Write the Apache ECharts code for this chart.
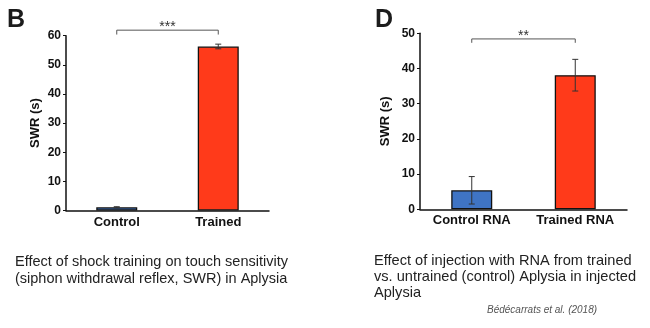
<!DOCTYPE html>
<html>
<head>
<meta charset="utf-8">
<script src="https://cdn.jsdelivr.net/npm/echarts@6/dist/echarts.min.js"></script>
<style>
  html, body { margin: 0; padding: 0; background: #ffffff; }
  #chart { width: 650px; height: 328px; }
</style>
</head>
<body>
<div id="chart"></div>
<script>
// Panel B: shock training
const categoriesB = ['Control', 'Trained'];
const meansB = [1.1, 56.3];
const errorsB = [0.2, 0.8];
const ticksB = { min: 0, max: 60, interval: 10 };
const sigB = { from: 0, to: 1, y: 61.9, drop: 1.5, text: '***' };

// Panel D: RNA injection
const categoriesD = ['Control RNA', 'Trained RNA'];
const meansD = [5.4, 38.1];
const errorsD = [3.9, 4.5];
const ticksD = { min: 0, max: 50, interval: 10 };
const sigD = { from: 0, to: 1, y: 48.4, drop: 1.1, text: '**' };

const barColors = ['#3f74c4', '#ff3a1a'];
const FONT = '"Liberation Sans", Arial, Helvetica, sans-serif';

const chart = echarts.init(document.getElementById('chart'), null, { renderer: 'canvas' });

function yAxisFor(gridIndex, ticks, gap) {
  return {
    type: 'value', gridIndex: gridIndex,
    min: ticks.min, max: ticks.max, interval: ticks.interval,
    name: 'SWR (s)', nameLocation: 'middle', nameGap: gap, nameRotate: 90,
    nameTextStyle: { fontFamily: FONT, fontWeight: 'bold', fontSize: 13, color: '#111' },
    axisLine: { show: true, lineStyle: { color: '#111', width: 1.5 } },
    axisTick: { show: true, length: 3, lineStyle: { color: '#111', width: 1 } },
    axisLabel: { fontFamily: FONT, fontWeight: 'bold', fontSize: 12, color: '#111', margin: 5 },
    splitLine: { show: false }
  };
}

function xAxisFor(gridIndex, cats) {
  return {
    type: 'category', gridIndex: gridIndex, data: cats,
    axisLine: { show: true, lineStyle: { color: '#111', width: 1.5 } },
    axisTick: { show: false },
    axisLabel: { fontFamily: FONT, fontWeight: 'bold', fontSize: 13, color: '#111', margin: 5 }
  };
}

function barSeries(idx, values) {
  return {
    type: 'bar', xAxisIndex: idx, yAxisIndex: idx, barWidth: 41,
    data: values.map((v, i) => ({
      value: v,
      itemStyle: { color: barColors[i], borderColor: '#111', borderWidth: 1.3 }
    })),
    emphasis: { disabled: true },
    z: 2
  };
}

function errorSeries(idx, values, errs) {
  return {
    type: 'custom', xAxisIndex: idx, yAxisIndex: idx,
    data: values.map((v, i) => [i, v, errs[i]]),
    renderItem: function (params, api) {
      const x = api.value(0), y = api.value(1), e = api.value(2);
      const hi = api.coord([x, y + e]);
      const lo = api.coord([x, y - e]);
      const hw = 3;
      const style = { stroke: '#333', lineWidth: 1 };
      return {
        type: 'group',
        children: [
          { type: 'line', shape: { x1: hi[0], y1: hi[1], x2: lo[0], y2: lo[1] }, style: style },
          { type: 'line', shape: { x1: hi[0] - hw, y1: hi[1], x2: hi[0] + hw, y2: hi[1] }, style: style },
          { type: 'line', shape: { x1: lo[0] - hw, y1: lo[1], x2: lo[0] + hw, y2: lo[1] }, style: style }
        ]
      };
    },
    clip: false,
    z: 5
  };
}

function bracketSeries(idx, sig) {
  return {
    type: 'custom', xAxisIndex: idx, yAxisIndex: idx,
    data: [[sig.from, sig.to, sig.y, sig.y - sig.drop]],
    renderItem: function (params, api) {
      const a = api.coord([api.value(0), api.value(2)]);
      const b = api.coord([api.value(1), api.value(2)]);
      const aEnd = api.coord([api.value(0), api.value(3)]);
      const style = { stroke: '#555', lineWidth: 1, fill: null };
      return {
        type: 'group',
        children: [
          { type: 'polyline', shape: { points: [[a[0], aEnd[1]], a, b, [b[0], aEnd[1]]] }, style: style },
          {
            type: 'text',
            style: {
              x: (a[0] + b[0]) / 2, y: a[1] - 3, text: sig.text,
              fill: '#333', font: '14px ' + FONT, align: 'center', verticalAlign: 'middle'
            }
          }
        ]
      };
    },
    clip: false,
    silent: true,
    z: 5
  };
}

chart.setOption({
  animation: false,
  backgroundColor: '#ffffff',
  grid: [
    { left: 66, right: 381, top: 35.7, bottom: 117.5, outerBoundsMode: 'none' },
    { left: 420, right: 23, top: 33.3, bottom: 118.7, outerBoundsMode: 'none' }
  ],
  xAxis: [xAxisFor(0, categoriesB), xAxisFor(1, categoriesD)],
  yAxis: [yAxisFor(0, ticksB, 24), yAxisFor(1, ticksD, 28)],
  series: [
    barSeries(0, meansB), errorSeries(0, meansB, errorsB), bracketSeries(0, sigB),
    barSeries(1, meansD), errorSeries(1, meansD, errorsD), bracketSeries(1, sigD)
  ],
  graphic: [
    { type: 'text', left: 7, top: 8, style: { text: 'B', font: 'bold 25px ' + FONT, fill: '#1c1c1c' } },
    { type: 'text', left: 375, top: 8, style: { text: 'D', font: 'bold 25px ' + FONT, fill: '#1c1c1c' } },
    {
      type: 'text', left: 15, top: 254,
      style: {
        text: 'Effect of shock training on touch sensitivity\n(siphon withdrawal reflex, SWR) in Aplysia',
        font: '14.5px ' + FONT, fill: '#222', lineHeight: 16.5
      }
    },
    {
      type: 'text', left: 374, top: 252.5,
      style: {
        text: 'Effect of injection with RNA from trained\nvs. untrained (control) Aplysia in injected\nAplysia',
        font: '14.6px ' + FONT, fill: '#222', lineHeight: 16.3
      }
    },
    {
      type: 'text', left: 487, top: 305,
      style: { text: 'Bédécarrats et al. (2018)', font: 'italic 10px ' + FONT, fill: '#555' }
    }
  ]
});
</script>
</body>
</html>
